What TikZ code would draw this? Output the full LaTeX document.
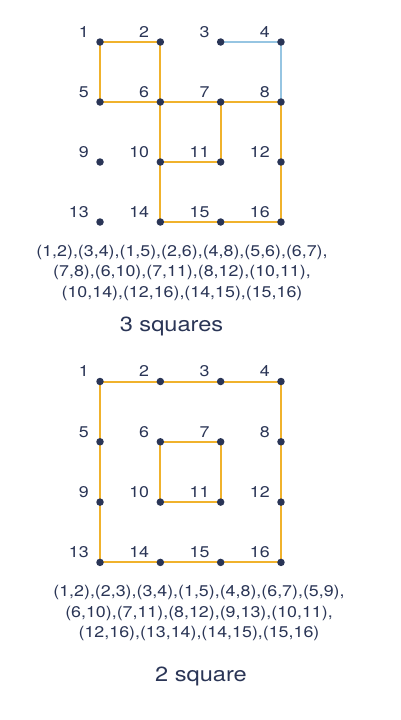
\documentclass[tikz,border=0pt]{standalone}
\usepackage{fontspec}
\setmainfont[FakeStretch=1.15]{TeX Gyre Heros}
\definecolor{navy}{HTML}{2A3556}
\definecolor{gold}{HTML}{F0B22C}
\definecolor{sky}{HTML}{96C5E2}
\begin{document}
\begin{tikzpicture}[x=1pt,y=-1pt,
  dot/.style={circle,fill=navy,inner sep=0pt,minimum size=7.5pt},
  lab/.style={text=navy,inner sep=0pt,anchor=east,font=\fontsize{15.5}{18}\selectfont},
  edge/.style={draw=gold,line width=2pt},
  blueedge/.style={draw=sky,line width=2pt},
  list/.style={text=navy,align=center,inner sep=0pt,font=\fontsize{15.5}{20.5}\selectfont},
  caption/.style={text=navy,inner sep=0pt,font=\fontsize{20.5}{24}\selectfont}]
\useasboundingbox[fill=white] (0,0) rectangle (400,720);
% top grid
\foreach \r in {0,1,2,3}{
  \foreach \c in {0,1,2,3}{
    \pgfmathtruncatemacro{\i}{4*\r+\c+1}
    \coordinate (pa\i) at (100+60.33*\c, 42+60*\r);
    \coordinate (pb\i) at (100+60.33*\c, 381.5+60.3*\r);
  }
}
\begin{scope}
\foreach \a/\b in {1/2,2/6,1/5,5/6,6/7,7/8,6/10,7/11,10/11,10/14,14/15,15/16,12/16,8/12}
  \draw[edge] (pa\a) -- (pa\b);
\foreach \a/\b in {3/4,4/8}
  \draw[blueedge] (pa\a) -- (pa\b);
\foreach \a/\b in {1/2,2/3,3/4,1/5,5/9,9/13,13/14,14/15,15/16,4/8,8/12,12/16,6/7,7/11,6/10,10/11}
  \draw[edge] (pb\a) -- (pb\b);
\end{scope}
\foreach \i in {1,...,16}{
  \node[dot] (a\i) at (pa\i) {};
  \node[lab] (la\i) at ([shift={(-11,-10)}]pa\i) {\i};
  \node[dot] (b\i) at (pb\i) {};
  \node[lab] (lb\i) at ([shift={(-11,-10)}]pb\i) {\i};
}
\node[list] (lista) at (182,272.5) {(1,2),(3,4),(1,5),(2,6),(4,8),(5,6),(6,7),\\(7,8),(6,10),(7,11),(8,12),(10,11),\\(10,14),(12,16),(14,15),(15,16)};
\node[caption] (capa) at (171.5,326.5) {3 squares};
\node[list] (listb) at (199,613) {(1,2),(2,3),(3,4),(1,5),(4,8),(6,7),(5,9),\\(6,10),(7,11),(8,12),(9,13),(10,11),\\(12,16),(13,14),(14,15),(15,16)};
\node[caption] (capb) at (201,676) {2 square};
\end{tikzpicture}
\end{document}
